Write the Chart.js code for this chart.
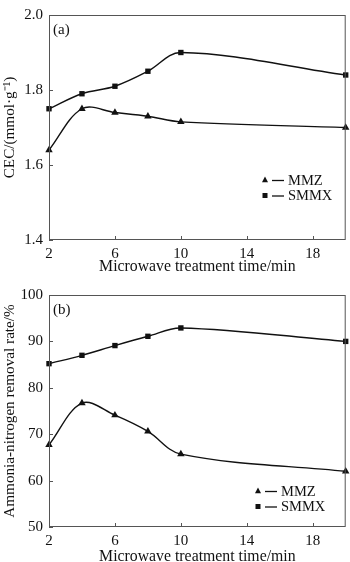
<!DOCTYPE html>
<html>
<head>
<meta charset="utf-8">
<script src="https://cdn.jsdelivr.net/npm/chart.js@4.4.1/dist/chart.umd.min.js"></script>
<style>
  html, body { margin: 0; padding: 0; background: #fff; overflow: hidden; }
  #wrap { position: relative; width: 350px; height: 562px; overflow: hidden; }
  .panel { position: absolute; left: 0; width: 350px; }
  #top-panel { top: 0; height: 280px; }
  #bottom-panel { top: 280px; height: 290px; }
</style>
</head>
<body>
<div id="wrap">
  <div class="panel" id="top-panel"><canvas id="cec-chart"></canvas></div>
  <div class="panel" id="bottom-panel"><canvas id="removal-chart"></canvas></div>
</div>
<script>
// ---- data ----
const times = [2, 4, 6, 8, 10, 20];
const seriesNames = ['MMZ', 'SMMX'];
const cecMMZ = [1.64, 1.75, 1.74, 1.73, 1.715, 1.70];
const cecSMMX = [1.75, 1.79, 1.81, 1.85, 1.90, 1.84];
const removalMMZ = [67.7, 76.7, 74.1, 70.6, 65.7, 62.0];
const removalSMMX = [85.2, 87.0, 89.1, 91.1, 92.9, 90.0];
const xTicks = [2, 6, 10, 14, 18];
const cecTicks = [1.4, 1.6, 1.8, 2.0];
const removalTicks = [50, 60, 70, 80, 90, 100];

const FONT = "'Liberation Serif', 'Times New Roman', serif";
const INK = '#111';
const FRAME = '#555';

const pts = (ys) => times.map((t, i) => ({ x: t, y: ys[i] }));

function marker(ctx, style, x, y) {
  ctx.beginPath();
  if (style === 'triangle') {
    ctx.moveTo(x, y - 3.5);
    ctx.lineTo(x + 3, y + 2.2);
    ctx.lineTo(x - 3, y + 2.2);
    ctx.closePath();
  } else {
    ctx.rect(x - 2.5, y - 2.5, 5, 5);
  }
  ctx.fill();
}

// frame, inward ticks, panel tag, legend
const decor = {
  id: 'decor',
  afterDraw(chart, args, opts) {
    const { ctx, chartArea: a, scales } = chart;
    ctx.save();
    ctx.strokeStyle = FRAME;
    ctx.lineWidth = 1;
    ctx.strokeRect(a.left + 0.5, a.top + 0.5, a.right - a.left - 1, a.bottom - a.top - 1);
    ctx.beginPath();
    xTicks.forEach(v => {
      const px = Math.round(scales.x.getPixelForValue(v)) + 0.5;
      ctx.moveTo(px, a.bottom);
      ctx.lineTo(px, a.bottom - 4);
    });
    opts.yTicks.forEach(v => {
      const py = Math.round(scales.y.getPixelForValue(v)) + 0.5;
      ctx.moveTo(a.left, py);
      ctx.lineTo(a.left + 4, py);
    });
    ctx.stroke();

    ctx.fillStyle = INK;
    ctx.font = '15px ' + FONT;
    ctx.textBaseline = 'middle';
    ctx.fillText(opts.tag, a.left + 4, a.top + 15);

    // legend
    ctx.font = '14.5px ' + FONT;
    chart.data.datasets.forEach((ds, i) => {
      const y = opts.legendY + i * 15.5;
      const x = opts.legendX;
      ctx.fillStyle = INK;
      marker(ctx, ds.pointStyle, x, y);
      ctx.strokeStyle = INK;
      ctx.lineWidth = 1.3;
      ctx.beginPath();
      ctx.moveTo(x + 7, y + 0.5);
      ctx.lineTo(x + 19, y + 0.5);
      ctx.stroke();
      ctx.fillText(ds.label, x + 23, y + 1);
    });
    ctx.restore();
  }
};

function makeChart(id, mmz, smmx, cfg) {
  const ds = (label, data, style) => ({
    label, data: pts(data),
    borderColor: INK, backgroundColor: INK,
    borderWidth: 1.4, tension: 0.35,
    pointStyle: style, pointRadius: style === 'rect' ? 3.8 : 4.3,
    pointBackgroundColor: INK, pointBorderWidth: 0,
    clip: false,
  });
  return new Chart(document.getElementById(id), {
    type: 'line',
    data: { datasets: [ds(seriesNames[0], mmz, 'triangle'), ds(seriesNames[1], smmx, 'rect')] },
    options: {
      responsive: true,
      maintainAspectRatio: false,
      animation: false,
      layout: { padding: { top: cfg.padTop, right: 4, left: 0, bottom: 0 } },
      plugins: {
        legend: { display: false },
        tooltip: { enabled: false },
        decor: { tag: cfg.tag, yTicks: cfg.yTicks, legendX: cfg.legendX, legendY: cfg.legendY },
      },
      scales: {
        x: {
          type: 'linear', min: 2, max: 20,
          afterBuildTicks: s => { s.ticks = xTicks.map(v => ({ value: v })); },
          afterFit: s => { s.height = cfg.xHeight; },
          grid: { display: false, drawTicks: false },
          border: { display: false },
          ticks: { color: INK, font: { family: FONT, size: 15 }, padding: 5, maxRotation: 0 },
          title: { display: true, text: 'Microwave treatment time/min', color: INK,
                   font: { family: FONT, size: 15.8 }, padding: { top: 0, bottom: 4 } },
        },
        y: {
          min: cfg.yTicks[0], max: cfg.yTicks[cfg.yTicks.length - 1],
          afterBuildTicks: s => { s.ticks = cfg.yTicks.map(v => ({ value: v })); },
          afterFit: s => { s.width = 49; },
          grid: { display: false, drawTicks: false },
          border: { display: false },
          ticks: { color: INK, font: { family: FONT, size: 15 }, padding: 6,
                   callback: v => cfg.fmt(v) },
          title: { display: true, text: cfg.yTitle, color: INK,
                   font: { family: FONT, size: 15.2 }, padding: { top: 1, bottom: 0 } },
        },
      },
    },
    plugins: [decor],
  });
}

makeChart('cec-chart', cecMMZ, cecSMMX, {
  tag: '(a)', yTicks: cecTicks, yTitle: 'CEC/(mmol·g⁻¹)', fmt: v => v.toFixed(1),
  padTop: 6, xHeight: 40, legendX: 265, legendY: 180,
});
makeChart('removal-chart', removalMMZ, removalSMMX, {
  tag: '(b)', yTicks: removalTicks, yTitle: 'Ammonia-nitrogen removal rate/%', fmt: v => String(v),
  padTop: 13, xHeight: 43, legendX: 258, legendY: 211,
});
</script>
</body>
</html>
